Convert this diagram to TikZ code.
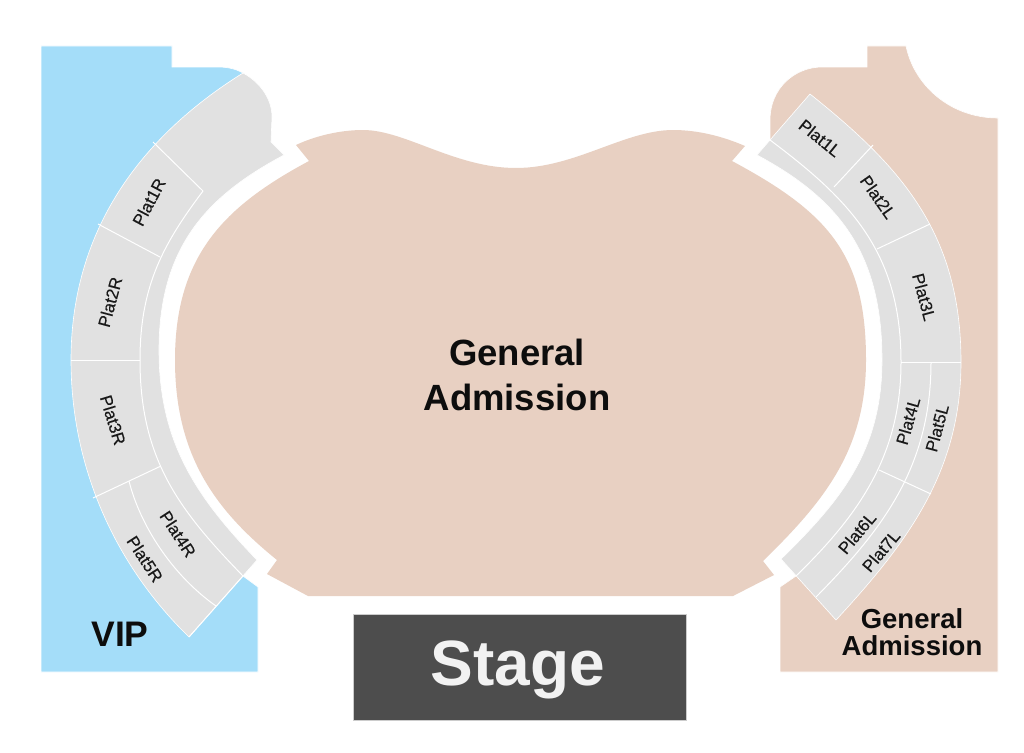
\documentclass[tikz,border=0pt]{standalone}
\usepackage{fontspec}
\setmainfont{Liberation Sans}
\newfontfamily\platfont[FakeBold=0.35]{Liberation Sans}
\definecolor{tanc}{HTML}{E8D0C2}
\definecolor{vipc}{HTML}{A4DDF9}
\definecolor{grayc}{HTML}{E1E1E1}
\definecolor{stagec}{HTML}{4D4D4D}
\tikzset{
  region/.style={draw=white,line width=0.6pt},
  seatline/.style={draw=white,line width=1pt},
  platlabel/.style={font=\platfont\fontsize{17}{19}\selectfont,text=black!90},
  biglabel/.style={text=black!95,align=center},
}
\begin{document}
\begin{tikzpicture}[x=1pt,y=-1pt]
\useasboundingbox (0,0) rectangle (1024,752);
\fill[white] (0,0) rectangle (1024,752);
% VIP
\path[fill=vipc,region] (41,46) -- (172,46) -- (172,67) -- (218,67) .. controls (228,67) and (236,69) .. (243,73) -- (200,130) -- (110,250) -- (100,360) -- (125,480) -- (200,590) -- (243,576) -- (258,587) -- (258,672) -- (41,672) -- cycle;
% right tan
\path[fill=tanc,region] (867,46) -- (906,46) .. controls (914,85) and (950,118) .. (998,118) -- (998,672) -- (780,672) -- (780,587) -- (796,576) -- (830,540) -- (925,360) -- (900,240) -- (840,170) -- (790,125) -- (770,140) -- (770,120) .. controls (770,88) and (795,67) .. (822,67) -- (867,67) -- cycle;
% main GA
\path[fill=tanc] (296,145) .. controls (315,136) and (340,130) .. (363,130) .. controls (405,130) and (455,168) .. (516,168) .. controls (575,168) and (625,130) .. (673,130) .. controls (697,130) and (722,136) .. (745,146) -- (732,161)
  .. controls (829,213) and (866,255) .. (866,360) .. controls (866,450) and (824,501.5) .. (763,561)
  -- (774,575) -- (733,596) -- (308,596) -- (267,574) -- (277,560)
  .. controls (215,510) and (175,455) .. (175,360) .. controls (175,255) and (225,206) .. (309,161) -- cycle;
% left band
\path[fill=grayc,region] (243,73) .. controls (258,81) and (272,97) .. (272,117) -- (271,142) -- (284,155)
  .. controls (209,195) and (159,245) .. (159,350) .. controls (159,440) and (194,495) .. (257,560)
  -- (189,637) .. controls (117,567) and (71,470) .. (71,360) .. controls (71,230) and (141,136.6) .. (243,73) -- cycle;
\draw[seatline] (203,191) .. controls (164,243) and (140,285) .. (140,360) .. controls (140,460) and (180,511) .. (243,576);
\draw[seatline] (129,481) .. controls (140,525) and (172,575) .. (216,606);
\draw[seatline] (153,142) -- (203,191);
\draw[seatline] (98,224) -- (160,257);
\draw[seatline] (71,360) -- (140,360);
\draw[seatline] (93,498) -- (161,466);
\draw[seatline] (243,576) -- (189,637);
% right band
\path[fill=grayc,region] (757,155) -- (770,140) -- (810,94) .. controls (900,166) and (961,232) .. (961,362) .. controls (961,472) and (907,543) .. (836,620) -- (781,559)
  .. controls (842,499.5) and (882,450) .. (882,360) .. controls (882,255) and (841,200) .. (757,155) -- cycle;
\draw[seatline] (770,140) .. controls (850,200) and (901,252) .. (901,362) .. controls (901,457) and (857,516.5) .. (796,576);
\draw[seatline] (931,362) .. controls (931,467) and (882.5,529.5) .. (816,597);
\draw[seatline] (834,187) -- (873,145);
\draw[seatline] (877,249) -- (930,224);
\draw[seatline] (901,362) -- (961,362);
\draw[seatline] (879,470) -- (931,494);
% stage
\path[fill=stagec,draw=black!20,line width=0.6pt] (353.5,614.5) rectangle (686.5,720);
% labels
\node[platlabel,rotate=62] (p1r) at (149,202) {Plat1R};
\node[platlabel,rotate=75] (p2r) at (110,302) {Plat2R};
\node[platlabel,rotate=-73] (p3r) at (113,420) {Plat3R};
\node[platlabel,rotate=-57] (p4r) at (178,534) {Plat4R};
\node[platlabel,rotate=-57] (p5r) at (145,559) {Plat5R};
\node[platlabel,rotate=-39] (p1l) at (820,138) {Plat1L};
\node[platlabel,rotate=-55] (p2l) at (878,197) {Plat2L};
\node[platlabel,rotate=-75] (p3l) at (924,297) {Plat3L};
\node[platlabel,rotate=74] (p4l) at (908,421) {Plat4L};
\node[platlabel,rotate=75] (p5l) at (937,428) {Plat5L};
\node[platlabel,rotate=50] (p6l) at (857,533) {Plat6L};
\node[platlabel,rotate=50] (p7l) at (881,551) {Plat7L};
\node[biglabel,font=\bfseries\fontsize{35.5}{35.5}\selectfont] (vip) at (120,634) {VIP};
\node[biglabel,font=\bfseries\fontsize{27.5}{27}\selectfont] (ga2) at (912,632) {General\\Admission};
\node[biglabel,font=\bfseries\fontsize{36.5}{45}\selectfont] (ga1) at (517,375) {General\\Admission};
\node[font=\bfseries\fontsize{64}{64}\selectfont,text=white!95!black] (stage) at (518,670) {Stage};
\end{tikzpicture}
\end{document}
